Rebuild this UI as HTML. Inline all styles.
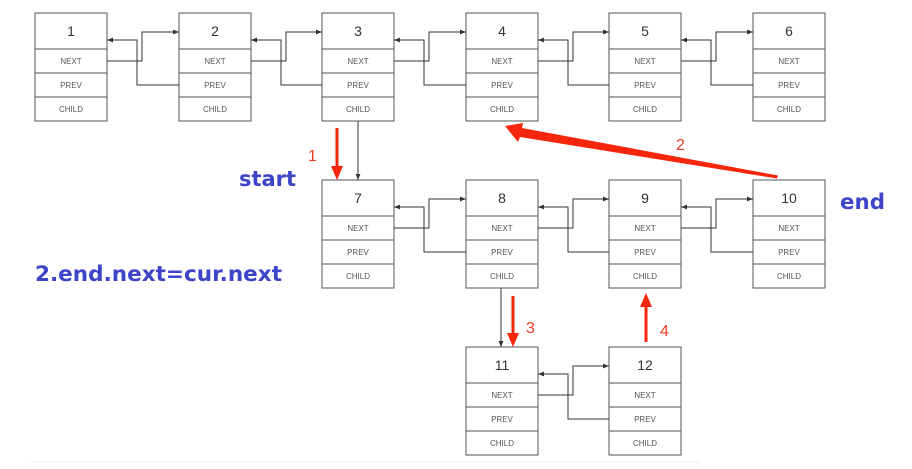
<!DOCTYPE html>
<html><head><meta charset="utf-8"><style>
html,body{margin:0;padding:0;background:#fff;width:912px;height:469px;overflow:hidden}
svg{display:block}
.b{fill:#fff;stroke:#555;stroke-width:1}
.n{font-family:"Liberation Sans",sans-serif;font-size:14px;fill:#333;text-anchor:middle}
.s{font-family:"Liberation Sans",sans-serif;font-size:8px;fill:#555;text-anchor:middle}
.c{fill:none;stroke:#333;stroke-width:1}
.bl{font-family:"DejaVu Sans",sans-serif;font-weight:bold;font-size:21px;fill:#3d44c8}
.r{font-family:"Liberation Sans",sans-serif;font-size:16px;fill:#f03a1e}
</style></head><body>
<svg width="912" height="469" viewBox="0 0 912 469" xmlns="http://www.w3.org/2000/svg">
<defs>
<marker id="a" viewBox="0 0 10 10" refX="10" refY="5" markerWidth="6" markerHeight="6" orient="auto"><path d="M0,1 L10,5 L0,9 z" fill="#333"/></marker>
<g id="nd">
<rect class="b" x="0" y="0" width="72" height="108"/>
<line class="b" x1="0" y1="36" x2="72" y2="36"/>
<line class="b" x1="0" y1="60" x2="72" y2="60"/>
<line class="b" x1="0" y1="84" x2="72" y2="84"/>
</g>
</defs>
<line x1="30" y1="462" x2="700" y2="462" stroke="#eee" stroke-width="1"/>

<g transform="translate(35,13)"><use href="#nd"/><text class="n" x="36" y="23">1</text><text class="s" x="36" y="51">NEXT</text><text class="s" x="36" y="75">PREV</text><text class="s" x="36" y="99">CHILD</text></g>
<g transform="translate(179,13)"><use href="#nd"/><text class="n" x="36" y="23">2</text><text class="s" x="36" y="51">NEXT</text><text class="s" x="36" y="75">PREV</text><text class="s" x="36" y="99">CHILD</text></g>
<g transform="translate(322,13)"><use href="#nd"/><text class="n" x="36" y="23">3</text><text class="s" x="36" y="51">NEXT</text><text class="s" x="36" y="75">PREV</text><text class="s" x="36" y="99">CHILD</text></g>
<g transform="translate(466,13)"><use href="#nd"/><text class="n" x="36" y="23">4</text><text class="s" x="36" y="51">NEXT</text><text class="s" x="36" y="75">PREV</text><text class="s" x="36" y="99">CHILD</text></g>
<g transform="translate(609,13)"><use href="#nd"/><text class="n" x="36" y="23">5</text><text class="s" x="36" y="51">NEXT</text><text class="s" x="36" y="75">PREV</text><text class="s" x="36" y="99">CHILD</text></g>
<g transform="translate(753,13)"><use href="#nd"/><text class="n" x="36" y="23">6</text><text class="s" x="36" y="51">NEXT</text><text class="s" x="36" y="75">PREV</text><text class="s" x="36" y="99">CHILD</text></g>

<g transform="translate(322,180)"><use href="#nd"/><text class="n" x="36" y="23">7</text><text class="s" x="36" y="51">NEXT</text><text class="s" x="36" y="75">PREV</text><text class="s" x="36" y="99">CHILD</text></g>
<g transform="translate(466,180)"><use href="#nd"/><text class="n" x="36" y="23">8</text><text class="s" x="36" y="51">NEXT</text><text class="s" x="36" y="75">PREV</text><text class="s" x="36" y="99">CHILD</text></g>
<g transform="translate(609,180)"><use href="#nd"/><text class="n" x="36" y="23">9</text><text class="s" x="36" y="51">NEXT</text><text class="s" x="36" y="75">PREV</text><text class="s" x="36" y="99">CHILD</text></g>
<g transform="translate(753,180)"><use href="#nd"/><text class="n" x="36" y="23">10</text><text class="s" x="36" y="51">NEXT</text><text class="s" x="36" y="75">PREV</text><text class="s" x="36" y="99">CHILD</text></g>

<g transform="translate(466,347)"><use href="#nd"/><text class="n" x="36" y="23">11</text><text class="s" x="36" y="51">NEXT</text><text class="s" x="36" y="75">PREV</text><text class="s" x="36" y="99">CHILD</text></g>
<g transform="translate(609,347)"><use href="#nd"/><text class="n" x="36" y="23">12</text><text class="s" x="36" y="51">NEXT</text><text class="s" x="36" y="75">PREV</text><text class="s" x="36" y="99">CHILD</text></g>

<path class="c" marker-end="url(#a)" d="M107,61 H142 V32 H179"/>
<path class="c" marker-end="url(#a)" d="M179,85 H137 V40 H107"/>
<path class="c" marker-end="url(#a)" d="M251,61 H286 V32 H322"/>
<path class="c" marker-end="url(#a)" d="M322,85 H281 V40 H251"/>
<path class="c" marker-end="url(#a)" d="M394,61 H429 V32 H466"/>
<path class="c" marker-end="url(#a)" d="M466,85 H424 V40 H394"/>
<path class="c" marker-end="url(#a)" d="M538,61 H573 V32 H609"/>
<path class="c" marker-end="url(#a)" d="M609,85 H568 V40 H538"/>
<path class="c" marker-end="url(#a)" d="M681,61 H716 V32 H753"/>
<path class="c" marker-end="url(#a)" d="M753,85 H711 V40 H681"/>
<path class="c" marker-end="url(#a)" d="M394,228 H429 V199 H466"/>
<path class="c" marker-end="url(#a)" d="M466,252 H424 V207 H394"/>
<path class="c" marker-end="url(#a)" d="M538,228 H573 V199 H609"/>
<path class="c" marker-end="url(#a)" d="M609,252 H568 V207 H538"/>
<path class="c" marker-end="url(#a)" d="M681,228 H716 V199 H753"/>
<path class="c" marker-end="url(#a)" d="M753,252 H711 V207 H681"/>
<path class="c" marker-end="url(#a)" d="M538,395 H573 V366 H609"/>
<path class="c" marker-end="url(#a)" d="M609,419 H568 V374 H538"/>
<path class="c" marker-end="url(#a)" d="M358,121 V180"/>
<path class="c" marker-end="url(#a)" d="M501,288 V347"/>

<g fill="#f5260c" stroke="none">
<polygon points="335.5,128 338.5,128 338.5,166 343,166 337,180 331,166 335.5,166"/>
<polygon points="511.5,296 514.5,296 514.5,333 519,333 513,347 507,333 511.5,333"/>
<polygon points="644.5,342 647.5,342 647.5,307 652,307 646,293 640,307 644.5,307"/>
<polygon points="778,175.5 777,178.5 520,137 518,142 505,126 523,123 522,128"/>
</g>
<text class="r" x="308" y="161">1</text>
<text class="r" x="676" y="150">2</text>
<text class="r" x="526" y="333">3</text>
<text class="r" x="660" y="336">4</text>

<text class="bl" x="239" y="186" textLength="57" lengthAdjust="spacingAndGlyphs">start</text>
<text class="bl" x="840" y="209" textLength="45" lengthAdjust="spacingAndGlyphs">end</text>
<text class="bl" x="35" y="281" textLength="247" lengthAdjust="spacingAndGlyphs">2.end.next=cur.next</text>
</svg>
</body></html>
